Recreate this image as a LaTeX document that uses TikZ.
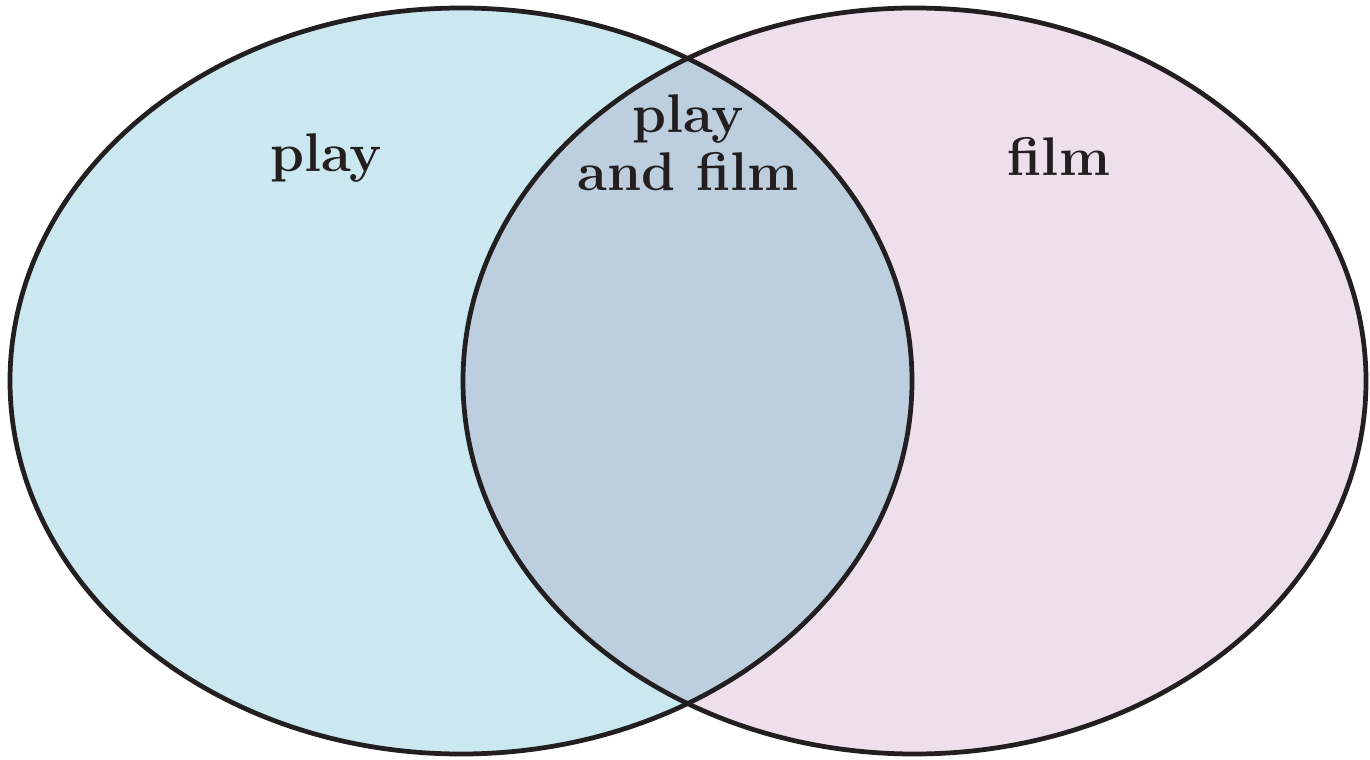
\documentclass[tikz,border=0pt]{standalone}
\usepackage{tikz}
\usetikzlibrary{positioning}

\definecolor{playblue}{HTML}{CBE8F0}
\definecolor{filmpink}{HTML}{EDE0EC}
\definecolor{bothblue}{HTML}{BDCFDF}
\definecolor{inkdark}{HTML}{231F20}

\tikzset{
  setlabel/.style={text=inkdark,font=\fontsize{31}{33}\selectfont\bfseries,align=center,inner sep=0pt},
  setline/.style={draw=inkdark,line width=2.7pt}
}

\begin{document}
\begin{tikzpicture}[x=0.02cm,y=-0.02cm]
    \useasboundingbox (0,0) rectangle (1370,760);

    % the two sets
    \fill[playblue] (461,381) ellipse (451 and 373);
    \fill[filmpink] (914.5,381) ellipse (451.5 and 373);

    % overlap
    \begin{scope}
        \clip (461,381) ellipse (451 and 373);
        \fill[bothblue] (914.5,381) ellipse (451.5 and 373);
    \end{scope}

    % outlines
    \draw[setline] (461,381) ellipse (451 and 373);
    \draw[setline] (914.5,381) ellipse (451.5 and 373);

    % labels
    \node[setlabel] (play) at (326,158) {play};
    \node[setlabel] (film) at (1059,156) {film};
    \node[setlabel] (both) at (688,143) {play\\and film};
\end{tikzpicture}
\end{document}
